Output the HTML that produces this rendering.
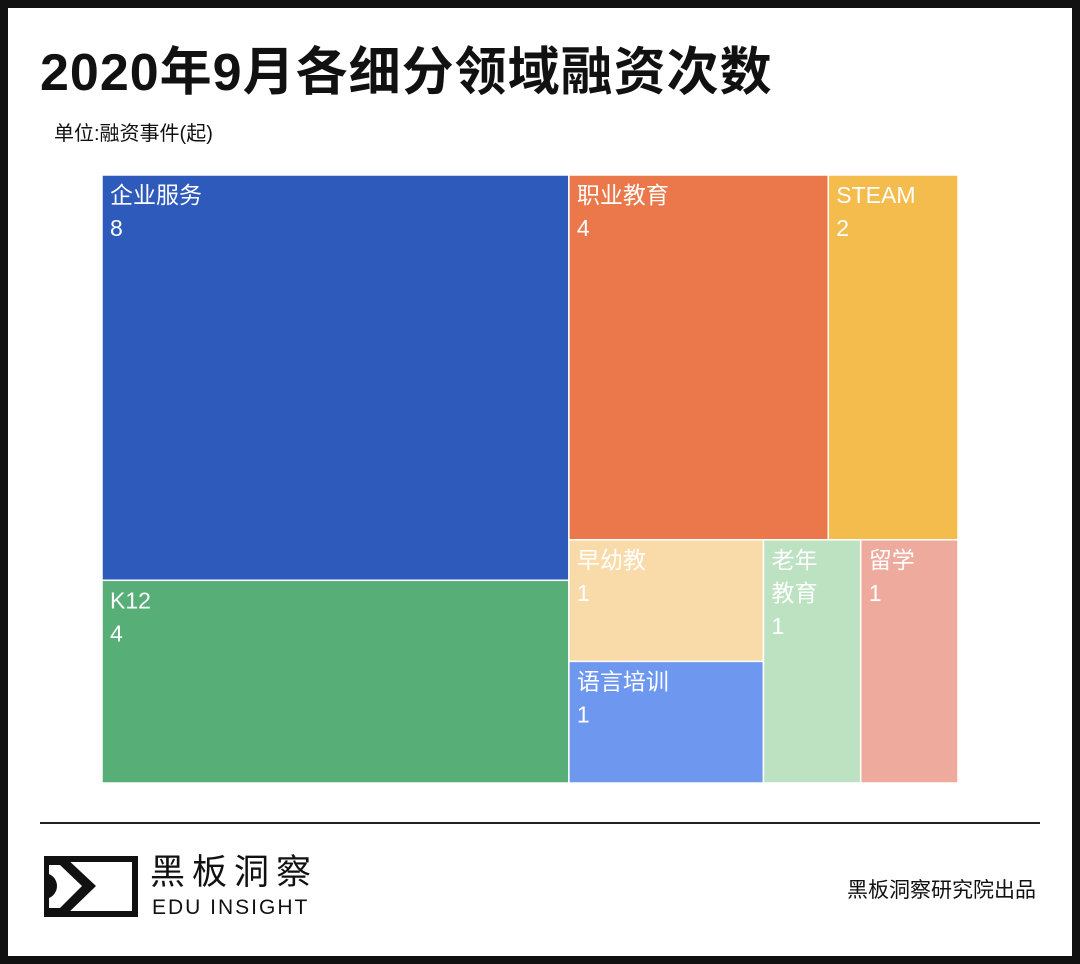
<!DOCTYPE html>
<html><head><meta charset="utf-8">
<style>
html,body{margin:0;padding:0;}
body{width:1080px;height:964px;position:relative;background:#fff;font-family:"Liberation Sans","Noto Sans CJK SC",sans-serif;overflow:hidden;}
.frame{position:absolute;left:0;top:0;width:1064px;height:948px;border:8px solid #111;}
.title{position:absolute;left:40px;top:41px;font-size:52px;line-height:64px;font-weight:bold;color:#111;letter-spacing:1px;}
.sub{position:absolute;left:54px;top:117px;font-size:20px;color:#111;}
.line{position:absolute;left:40px;top:822px;width:1000px;height:2px;background:#222;}
.brand{position:absolute;left:150px;top:852px;font-size:35px;line-height:42px;color:#111;letter-spacing:7px;}
.brand2{position:absolute;left:152px;top:896px;font-size:21px;line-height:24px;color:#111;letter-spacing:2px;}
.credit{position:absolute;right:44px;top:874px;font-size:21px;color:#111;}
</style></head><body>
<div class="frame"></div>
<div class="title">2020年9月各细分领域融资次数</div>
<div class="sub">单位:融资事件(起)</div>
<svg id="tm" width="1080" height="964" style="position:absolute;left:0;top:0"></svg>
<div class="line"></div>
<svg style="position:absolute;left:44px;top:856px" width="96" height="62">
<rect x="2" y="3" width="89" height="55" fill="none" stroke="#111" stroke-width="6"/>
<path d="M0,0 L20,0 L52,30 L20,61 L0,61 L0,52 L16,52 L38,30 L16,9 L0,9 Z" fill="#111"/>
<path d="M0,17 A13,13 0 0 1 0,43 Z" fill="#111"/>
</svg>
<div class="brand">黑板洞察</div>
<div class="brand2">EDU INSIGHT</div>
<div class="credit">黑板洞察研究院出品</div>
<script>
const categories=["企业服务","K12","职业教育","STEAM","早幼教","语言培训","老年教育","留学"];
const values=[8,4,4,2,1,1,1,1];
const colors=["#2d5abb","#57ae77","#ea784b","#f4bb4d","#f8dba9","#6e98ef","#bde2c2","#eeaa9c"];
const X0=102,Y0=175,W=856,H=608;
const ns="http://www.w3.org/2000/svg";
const svg=document.getElementById('tm');
const sum=a=>a.reduce((s,i)=>s+values[i],0);
const rects=[];
function vsplit(ids,x,y,w,h){let t=sum(ids),cy=y;ids.forEach(i=>{const hh=h*values[i]/t;rects.push([i,x,cy,w,hh]);cy+=hh;});}
function hsplit(ids,x,y,w,h){let t=sum(ids),cx=x;ids.forEach(i=>{const ww=w*values[i]/t;rects.push([i,cx,y,ww,h]);cx+=ww;});}
const left=[0,1],right=[2,3,4,5,6,7];
const total=sum(left)+sum(right);
const lw=W*sum(left)/total;
vsplit(left,X0,Y0,lw,H);
const rx=X0+lw,rw=W-lw;
const topR=[2,3],botR=[4,5,6,7];
const th=H*sum(topR)/sum(right);
hsplit(topR,rx,Y0,rw,th);
const by=Y0+th,bh=H-th,bt=sum(botR);
const gw=rw*sum([4,5])/bt;
vsplit([4,5],rx,by,gw,bh);
hsplit([6,7],rx+gw,by,rw-gw,bh);
rects.forEach(([i,x,y,w,h])=>{
  const g=document.createElementNS(ns,'g');
  
  
  const r=document.createElementNS(ns,'rect');
  r.setAttribute('x',x);r.setAttribute('y',y);r.setAttribute('width',w);r.setAttribute('height',h);
  r.setAttribute('fill',colors[i]);r.setAttribute('stroke','#fff');r.setAttribute('stroke-width','1.5');
  g.appendChild(r);
  let lines=[categories[i]];
  if(w<110&&categories[i].length>2) lines=[categories[i].slice(0,2),categories[i].slice(2)];
  lines.push(String(values[i]));
  lines.forEach((s,k)=>{
    const t=document.createElementNS(ns,'text');
    t.setAttribute('x',x+8);t.setAttribute('y',y+28+k*33);
    t.setAttribute('fill','#fff');t.setAttribute('font-size','23');
    t.setAttribute('font-family','"Liberation Sans","Noto Sans CJK SC",sans-serif');
    
    
    t.textContent=s;g.appendChild(t);
  });
  svg.appendChild(g);
});
</script>
</body></html>
